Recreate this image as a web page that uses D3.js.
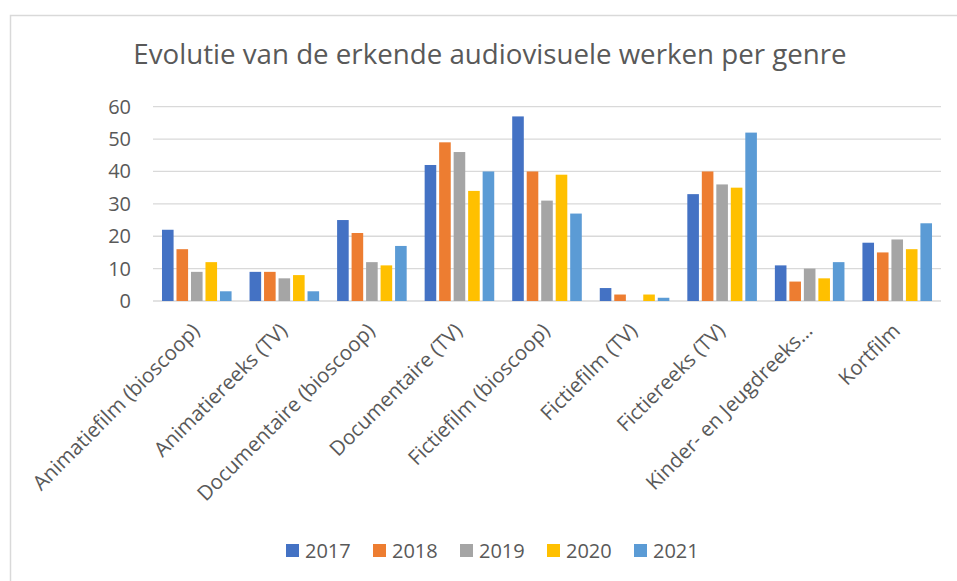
<!DOCTYPE html>
<html>
<head>
<meta charset="utf-8">
<script src="https://cdn.jsdelivr.net/npm/d3@7"></script>
<style>
  body { margin: 0; background: #fff; }
  text { font-family: "Open Sans", sans-serif; fill: #595959; }
</style>
</head>
<body>
<script>
var genres = ["Animatiefilm (bioscoop)", "Animatiereeks (TV)", "Documentaire (bioscoop)",
              "Documentaire (TV)", "Fictiefilm (bioscoop)", "Fictiefilm (TV)",
              "Fictiereeks (TV)", "Kinder- en Jeugdreeks…", "Kortfilm"];
var years  = ["2017", "2018", "2019", "2020", "2021"];
var colors = ["#4472c4", "#ed7d31", "#a5a5a5", "#ffc000", "#5b9bd5"];

var v2017 = [22, 9, 25, 42, 57, 4, 33, 11, 18];
var v2018 = [16, 9, 21, 49, 40, 2, 40, 6, 15];
var v2019 = [9, 7, 12, 46, 31, 0, 36, 10, 19];
var v2020 = [12, 8, 11, 34, 39, 2, 35, 7, 16];
var v2021 = [3, 3, 17, 40, 27, 1, 52, 12, 24];
var series = [v2017, v2018, v2019, v2020, v2021];

var yTicks = [0, 10, 20, 30, 40, 50, 60];

var width  = 957;
var height = 581;

var svg = d3.select("body")
            .append("svg")
            .attr("width", width)
            .attr("height", height);

// chart frame
svg.append("rect")
   .attr("x", 10.5).attr("y", 15.5)
   .attr("width", 960).attr("height", 600)
   .attr("fill", "none")
   .attr("stroke", "#d9d9d9")
   .attr("stroke-width", 1.5);

svg.append("text")
   .attr("x", 490)
   .attr("y", 64)
   .attr("text-anchor", "middle")
   .style("font-size", "27.7px")
   .text("Evolutie van de erkende audiovisuele werken per genre");

var plotLeft = 153, plotRight = 941, plotTop = 106.7, plotBottom = 301;

var x = d3.scaleBand().domain(genres).range([plotLeft, plotRight]).paddingInner(0).paddingOuter(0);
var inner = d3.scaleBand().domain(years).range([0, x.bandwidth()]).paddingInner(0.2).paddingOuter(0.62);
var y = d3.scaleLinear().domain([0, 60]).range([plotBottom, plotTop]);

// gridlines
svg.append("g")
   .selectAll("line")
   .data(yTicks)
   .enter().append("line")
   .attr("x1", plotLeft).attr("x2", plotRight)
   .attr("y1", function(d) { return y(d); })
   .attr("y2", function(d) { return y(d); })
   .attr("stroke", "#d9d9d9")
   .attr("stroke-width", 1.3);

// y labels
svg.append("g")
   .selectAll("text")
   .data(yTicks)
   .enter().append("text")
   .attr("x", 131)
   .attr("y", function(d) { return y(d); })
   .attr("dy", "0.35em")
   .attr("text-anchor", "end")
   .style("font-size", "20px")
   .text(function(d) { return d; });

// bars
var groups = svg.append("g")
   .selectAll("g")
   .data(series)
   .enter().append("g")
   .attr("fill", function(d, i) { return colors[i]; });

groups.selectAll("rect")
   .data(function(d, i) { return d.map(function(v, j) { return {year: years[i], genre: genres[j], value: v}; }); })
   .enter().append("rect")
   .attr("x", function(d) { return x(d.genre) + inner(d.year); })
   .attr("y", function(d) { return y(d.value); })
   .attr("width", inner.bandwidth())
   .attr("height", function(d) { return y(0) - y(d.value); });

// x labels, rotated
svg.append("g")
   .selectAll("text")
   .data(genres)
   .enter().append("text")
   .attr("transform", function(d) {
     return "translate(" + (x(d) + x.bandwidth() / 2 - 1) + "," + (plotBottom + 26) + ") rotate(-45)";
   })
   .attr("text-anchor", "end")
   .attr("dy", "0.35em")
   .style("font-size", "20.5px")
   .text(function(d) { return d; });

// legend
var legend = svg.append("g")
   .selectAll("g")
   .data(years)
   .enter().append("g")
   .attr("transform", function(d, i) { return "translate(" + (286 + i * 87) + ",544)"; });

legend.append("rect")
   .attr("width", 13).attr("height", 13)
   .attr("fill", function(d, i) { return colors[i]; });

legend.append("text")
   .attr("x", 19)
   .attr("y", 7)
   .attr("dy", "0.35em")
   .style("font-size", "20px")
   .text(function(d) { return d; });
</script>
</body>
</html>
